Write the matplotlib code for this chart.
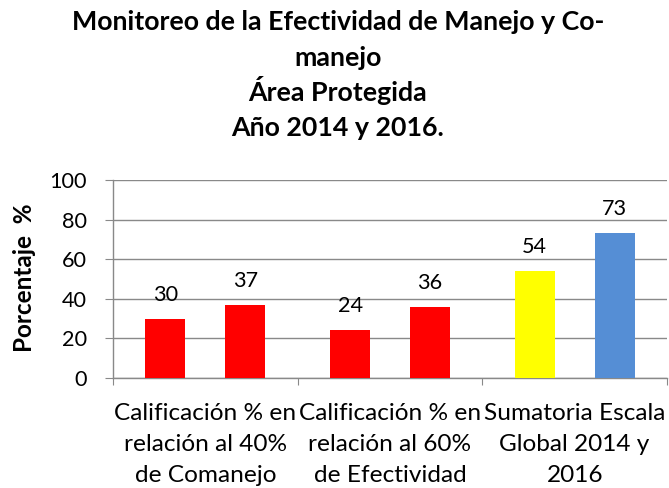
import matplotlib
matplotlib.use("Agg")
import matplotlib.pyplot as plt
import matplotlib.transforms as mtransforms
from matplotlib.textpath import TextPath
from matplotlib.font_manager import FontProperties
import numpy as np

categories = ["Calificación % en\nrelación al 40%\nde Comanejo",
              "Calificación % en\nrelación al 60%\nde Efectividad",
              "Sumatoria Escala\nGlobal 2014 y\n2016"]
series_2014 = [30, 24, 54]
series_2016 = [37, 36, 73]
colors_2014 = ["#FF0000", "#FF0000", "#FFFF00"]
colors_2016 = ["#FF0000", "#FF0000", "#558ED5"]
yticks = [0, 20, 40, 60, 80, 100]
title_lines = ["Monitoreo de la Efectividad de Manejo y Co-", "manejo",
               "Área Protegida", "Año 2014 y 2016."]
ylabel = "Porcentaje  %"

FONT = 'Lato'
plt.rcParams['font.family'] = [FONT, 'DejaVu Sans']

W, H = 669, 488
fig = plt.figure(figsize=(W/100, H/100), dpi=100)
renderer = fig.canvas.get_renderer()


def fit_size(text, target_px, weight="normal"):
    t = fig.text(0, 0, text, fontsize=10, fontweight=weight)
    w = t.get_window_extent(renderer=renderer).width
    t.remove()
    return 10 * target_px / w


ax = fig.add_axes([113/W, 1-378/H, (667-113)/W, (378-180)/H])

x = np.arange(len(categories)) + 0.5
w = 40/185
b1 = ax.bar(x - w, series_2014, width=w, color=colors_2014, zorder=3)
b2 = ax.bar(x + w, series_2016, width=w, color=colors_2016, zorder=3)
num_fs = 15.6
for bars in (b1, b2):
    for r in bars:
        ax.annotate(f"{int(r.get_height())}", (r.get_x() + r.get_width()/2, r.get_height()),
                    xytext=(0, 13), textcoords="offset points", ha="center", va="baseline",
                    fontsize=num_fs, color="#000000")

ax.set_xlim(0, 3)
ax.set_ylim(0, 100)
ax.set_yticks(yticks)
ax.set_yticklabels([str(v) for v in yticks], fontsize=num_fs)
ax.yaxis.grid(True, color="#898989", linewidth=1, zorder=0)
ax.set_axisbelow(True)

ax.set_xticks([0, 1, 2, 3])
ax.set_xticklabels([])
ax.tick_params(axis='x', which='major', length=5, color="#898989")
ax.tick_params(axis='y', length=5.8, color="#898989", pad=13)

for s in ["top", "right"]:
    ax.spines[s].set_visible(False)
for s in ["left", "bottom"]:
    ax.spines[s].set_color("#898989")
    ax.spines[s].set_linewidth(1)

# category labels, one text per line
cat_fs = fit_size("Calificación % en", 182)
trans = mtransforms.blended_transform_factory(ax.transData, fig.transFigure)
line_base = [420, 451, 482]
for xi, cat in zip(x, categories):
    for ln, yb in zip(cat.split("\n"), line_base):
        ax.text(xi, 1 - yb/H, ln, transform=trans, ha="center", va="baseline",
                fontsize=cat_fs, clip_on=False)

# y label
yl_fs = fit_size(ylabel, 149, "bold")
fig.text(25/W, 1 - 278/H, ylabel, rotation=90, ha="center", va="center",
         fontsize=yl_fs, fontweight="bold")

# title
t_fs = fit_size(title_lines[0], 535, "bold")
for ln, yb in zip(title_lines, [30, 65.5, 101, 135.5]):
    fig.text(338/W, 1 - yb/H, ln, ha="center", va="baseline",
             fontsize=t_fs, fontweight="bold")

fig.savefig("out.png", dpi=100)
